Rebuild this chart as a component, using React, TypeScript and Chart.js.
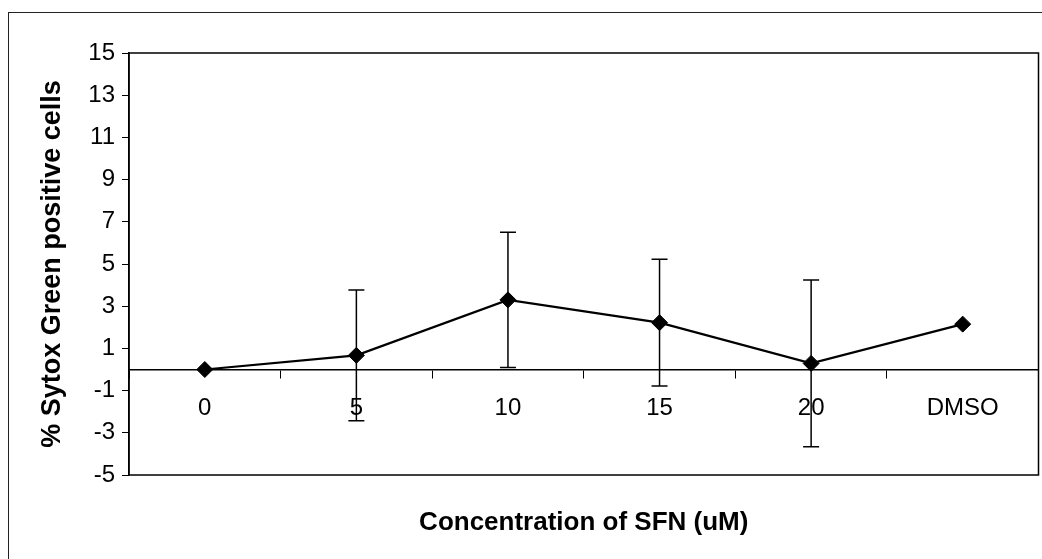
import React, { useEffect, useRef } from 'react';
import { Chart, registerables } from 'chart.js';

Chart.register(...registerables);

// ---- data ----
const categories = ['0', '5', '10', '15', '20', 'DMSO'];
const meanValues = [0, 0.67, 3.3, 2.22, 0.29, 2.15];
const errorValues = [0, 3.1, 3.2, 3.0, 3.95, 0];
const yMin = -5;
const yMax = 15;
const yStep = 2;
const yTitle = '% Sytox Green positive cells';
const xTitle = 'Concentration of SFN (uM)';

const FONT = '"Liberation Sans", Arial, sans-serif';

const plotFrame = {
  id: 'plotFrame',
  afterDraw(chart: any) {
    const { ctx, chartArea: a } = chart;
    ctx.save();
    ctx.strokeStyle = '#000';
    ctx.lineWidth = 1.5;
    ctx.strokeRect(a.left, a.top, a.right - a.left, a.bottom - a.top);
    ctx.restore();
  },
};

const CANVAS_W = 1048;
const CANVAS_H = 545;

export default function App() {
  const ref = useRef<HTMLCanvasElement | null>(null);

  useEffect(() => {
    if (!ref.current) return;
    const errorData: any[] = [];
    categories.forEach((c, i) => {
      if (errorValues[i] > 0) {
        errorData.push({ x: c, y: meanValues[i] + errorValues[i] });
        errorData.push({ x: c, y: meanValues[i] - errorValues[i] });
        errorData.push({ x: c, y: null });
      }
    });

    const chart = new Chart(ref.current, {
      type: 'line',
      data: {
        labels: categories,
        datasets: [
          {
            label: 'mean',
            data: meanValues,
            borderColor: '#000',
            borderWidth: 2.2,
            pointStyle: 'rectRot',
            pointRadius: 8,
            pointBackgroundColor: '#000',
            pointBorderColor: '#000',
            pointBorderWidth: 1,
            tension: 0,
            order: 0,
          },
          {
            label: 'error',
            data: errorData,
            borderColor: '#000',
            borderWidth: 1.5,
            pointStyle: 'line',
            pointRadius: 8,
            pointBorderWidth: 1.5,
            pointBorderColor: '#000',
            spanGaps: false,
            order: 1,
          },
        ],
      } as any,
      options: {
        animation: false,
        responsive: false,
        maintainAspectRatio: false,
        events: [],
        layout: { padding: { left: 8, top: 53, right: 4, bottom: 0 } },
        plugins: {
          legend: { display: false },
          tooltip: { enabled: false },
        },
        scales: {
          x: {
            type: 'category',
            position: { y: 0 } as any,
            offset: true,
            grid: {
              offset: true,
              drawOnChartArea: false,
              drawTicks: true,
              tickLength: 8,
              color: '#000',
              lineWidth: 1,
            },
            border: { display: true, color: '#000', width: 1.5 },
            ticks: {
              padding: 16,
              font: { family: FONT, size: 24 },
              color: '#000',
              maxRotation: 0,
              autoSkip: false,
            },
            afterFit: (s: any) => {
              s.height = 20;
            },
          },
          x2: {
            type: 'category',
            position: 'bottom',
            offset: true,
            labels: categories,
            grid: { display: false },
            border: { display: false },
            ticks: { display: false },
            title: {
              display: true,
              text: xTitle,
              color: '#000',
              font: { family: FONT, size: 26, weight: 'bold' },
              padding: { top: 0, bottom: 7 },
            },
            afterFit: (s: any) => {
              s.height = 70;
            },
          },
          y: {
            type: 'linear',
            min: yMin,
            max: yMax,
            ticks: {
              stepSize: yStep,
              padding: 7,
              color: '#000',
              font: { family: FONT, size: 24 },
            },
            grid: {
              drawOnChartArea: false,
              drawTicks: true,
              tickLength: 7,
              color: '#000',
            },
            border: { display: true, color: '#000', width: 1.5 },
            title: {
              display: true,
              text: yTitle,
              color: '#000',
              font: { family: FONT, size: 27, weight: 'bold' },
              padding: { top: 28, bottom: 0 },
            },
            afterFit: (s: any) => {
              s.width = 121;
            },
          },
        } as any,
      },
      plugins: [plotFrame],
    });
    return () => chart.destroy();
  }, []);

  return (
    <div
      style={{
        position: 'fixed',
        left: 0,
        top: 0,
        width: 1042,
        height: 559,
        overflow: 'hidden',
        background: '#fff',
      }}
    >
      <div
        style={{
          position: 'absolute',
          left: 8,
          top: 12,
          width: 1100,
          height: 700,
          borderLeft: '1px solid #222',
          borderTop: '1px solid #222',
        }}
      />
      <canvas
        ref={ref}
        width={CANVAS_W}
        height={CANVAS_H}
        style={{ position: 'absolute', left: 0, top: 0, width: CANVAS_W, height: CANVAS_H }}
      />
    </div>
  );
}
